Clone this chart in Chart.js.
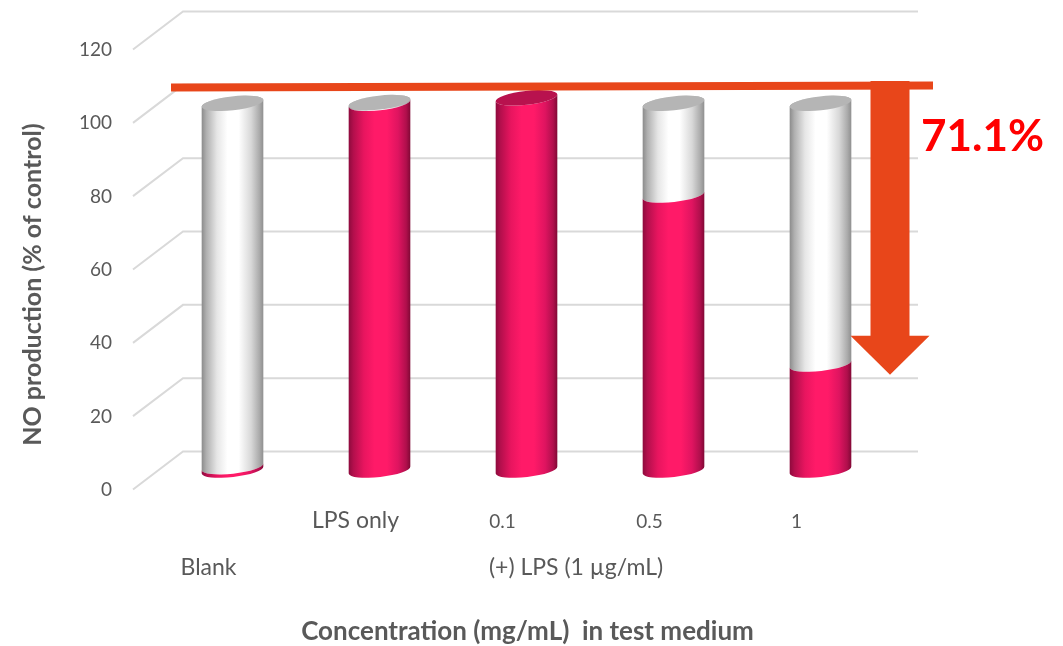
<!DOCTYPE html>
<html>
<head>
<meta charset="utf-8">
<style>html,body{margin:0;padding:0;background:#fff}canvas{display:block}</style>
<script src="https://cdn.jsdelivr.net/npm/chart.js@4"></script>
</head>
<body>
<canvas id="c" width="1063" height="646"></canvas>
<script>
const categories = ['Blank', 'LPS only', '0.1', '0.5', '1'];
const tickLabels = ['', 'LPS only', '0.1', '0.5', '1'];
const producedNO = [0.9, 100, 101.5, 75, 28.9];
const remainder = [99.1, 0.2, 0, 25, 71.1];
const valueTicks = [0, 20, 40, 60, 80, 100, 120];
const yTitle = 'NO production (% of control)';
const xTitle = 'Concentration (mg/mL)  in test medium';
const groupLabels = [
  { text: 'Blank', from: 0, to: 0 },
  { text: '(+) LPS (1 \u00b5g/mL)', from: 1, to: 4 }
];
const reductionLabel = '71.1%';
const referenceLevel = 109.5;
const arrowTopLevel = 111;
const arrowNeckLevel = 41.5;
const arrowTipLevel = 30.9;

const FONT = 'Lato, "Open Sans", sans-serif';
const TEXT = '#595959';
const ACCENT = '#E8461A';

function cylinderGradient(ctx, left, right, stops) {
  const g = ctx.createLinearGradient(left, 0, right, 0);
  stops.forEach(s => g.addColorStop(s[0], s[1]));
  return g;
}
const pinkStops = [[0,'#8c0a3c'],[0.08,'#b30f4c'],[0.25,'#e8155f'],[0.42,'#ff1a68'],[0.62,'#ff1a68'],[0.8,'#df1460'],[0.93,'#b00f4c'],[1,'#7f0834']];
const whiteStops = [[0,'#8a8a8a'],[0.08,'#b0b0b0'],[0.25,'#e6e6e6'],[0.42,'#ffffff'],[0.6,'#ffffff'],[0.8,'#d8d8d8'],[0.93,'#acacac'],[1,'#8e8e8e']];

class CylinderElement extends Chart.BarElement {
  static id = 'cylinder';
  draw(ctx) {
    const { x, y, base, width, options } = this.getProps(['x', 'y', 'base', 'width', 'options']);
    if (!isFinite(y) || Math.abs(base - y) < 0.01) return;
    const DX = 24, DY = -18;
    const cx = x + DX, top = y + DY, bottom = base + DY;
    const rx = width / 2, ry = 7, tilt = -0.113;
    const dark = options.backgroundColor === 'pink';
    const cap = options.borderColor;
    ctx.save();
    ctx.beginPath();
    if (dark) {
      // Lower cylinder: its upper edge follows the front arc of the cut.
      ctx.ellipse(cx, top, rx, ry, tilt, Math.PI, 0, true);
    } else {
      ctx.ellipse(cx, top, rx, ry, tilt, Math.PI, 2 * Math.PI, false);
    }
    ctx.ellipse(cx, bottom, rx, ry, tilt, 0, Math.PI, false);
    ctx.closePath();
    ctx.fillStyle = cylinderGradient(ctx, cx - rx, cx + rx, dark ? pinkStops : whiteStops);
    ctx.fill();
    if (cap !== 'transparent') {
      ctx.beginPath();
      ctx.ellipse(cx, top, rx, ry, tilt, 0, 2 * Math.PI);
      ctx.fillStyle = cap;
      ctx.fill();
    }
    ctx.restore();
  }
}
class CylinderController extends Chart.BarController {
  static id = 'cylinder';
  static defaults = { dataElementType: 'cylinder' };
}
Chart.register(CylinderElement, CylinderController);

const wallPlugin = {
  id: 'wall',
  beforeDatasetsDraw(chart) {
    const ctx = chart.ctx, ys = chart.scales.y, a = chart.chartArea;
    ctx.save();
    ctx.strokeStyle = '#d9d9d9';
    ctx.lineWidth = 2;
    valueTicks.forEach(v => {
      const py = ys.getPixelForValue(v);
      ctx.beginPath();
      ctx.moveTo(a.left - 2, py + 1.5);
      ctx.lineTo(a.left + 48, py - 36.5);
      ctx.lineTo(a.right + 48, py - 36.5);
      ctx.stroke();
    });
    ctx.restore();
  },
  afterDatasetsDraw(chart) {
    const ctx = chart.ctx, ys = chart.scales.y, xs = chart.scales.x, a = chart.chartArea;
    const yRef = ys.getPixelForValue(referenceLevel);
    const lastX = xs.getPixelForValue(4);
    const ax = lastX + 93.5;
    ctx.save();
    ctx.fillStyle = ACCENT;
    ctx.beginPath();
    ctx.moveTo(a.left + 36, yRef - 3);
    ctx.lineTo(a.right + 63, yRef - 5);
    ctx.lineTo(a.right + 63, yRef + 3);
    ctx.lineTo(a.left + 36, yRef + 5);
    ctx.closePath();
    ctx.fill();
    const yTop = ys.getPixelForValue(arrowTopLevel);
    const yNeck = ys.getPixelForValue(arrowNeckLevel);
    const yTip = ys.getPixelForValue(arrowTipLevel);
    ctx.beginPath();
    ctx.moveTo(ax - 19.5, yTop);
    ctx.lineTo(ax + 19.5, yTop);
    ctx.lineTo(ax + 19.5, yNeck);
    ctx.lineTo(ax + 39.5, yNeck);
    ctx.lineTo(ax, yTip);
    ctx.lineTo(ax - 39.5, yNeck);
    ctx.lineTo(ax - 19.5, yNeck);
    ctx.closePath();
    ctx.fill();

    ctx.fillStyle = '#FF0000';
    ctx.font = 'bold 44px ' + FONT;
    ctx.textAlign = 'left';
    ctx.textBaseline = 'alphabetic';
    ctx.fillText(reductionLabel, a.right + 51, 151);

    ctx.fillStyle = TEXT;
    ctx.font = '23px ' + FONT;
    ctx.textAlign = 'center';
    ctx.textBaseline = 'middle';
    groupLabels.forEach(g => {
      const gx = (xs.getPixelForValue(g.from) + xs.getPixelForValue(g.to)) / 2;
      ctx.fillText(g.text, gx, 568);
    });

    ctx.font = 'bold 26px ' + FONT;
    ctx.fillText(xTitle, 527.5, 632);
    ctx.font = 'bold 25px ' + FONT;
    ctx.translate(33, 284.5);
    ctx.rotate(-Math.PI / 2);
    ctx.fillText(yTitle, 0, 0);
    ctx.restore();
  }
};

new Chart(document.getElementById('c'), {
  type: 'cylinder',
  data: {
    labels: categories,
    datasets: [
      {
        label: 'NO production', data: producedNO, backgroundColor: 'pink',
        borderColor: c => remainder[c.dataIndex] > 0 ? 'transparent' : '#b8124e'
      },
      { label: 'Remainder', data: remainder, backgroundColor: 'white', borderColor: '#b5b5b5' }
    ]
  },
  plugins: [wallPlugin],
  options: {
    responsive: false,
    animation: false,
    barPercentage: 0.422,
    categoryPercentage: 1,
    layout: { padding: { left: 0, top: 48, right: 193, bottom: 0 } },
    plugins: { legend: { display: false }, tooltip: { enabled: false } },
    scales: {
      x: {
        type: 'category',
        stacked: true,
        grid: { display: false, drawTicks: false },
        border: { display: false },
        afterFit(s) { s.height = 158; },
        ticks: {
          color: TEXT,
          padding: 19,
          maxRotation: 0,
          autoSkip: false,
          font: (c) => (c.index === 1
            ? { family: FONT, size: 23 }
            : { family: FONT, size: 19, lineHeight: '30px' }),
          callback: (v, i) => tickLabels[i]
        }
      },
      y: {
        type: 'linear',
        stacked: true,
        min: 0,
        max: 120,
        grid: { display: false, drawTicks: false },
        border: { display: false },
        afterFit(s) { s.width = 135; },
        ticks: {
          color: TEXT,
          padding: 23,
          stepSize: 20,
          font: { family: FONT, size: 19, lineHeight: '4px' },
          callback: (v) => ['', String(v)]
        }
      }
    }
  }
});
</script>
</body>
</html>
